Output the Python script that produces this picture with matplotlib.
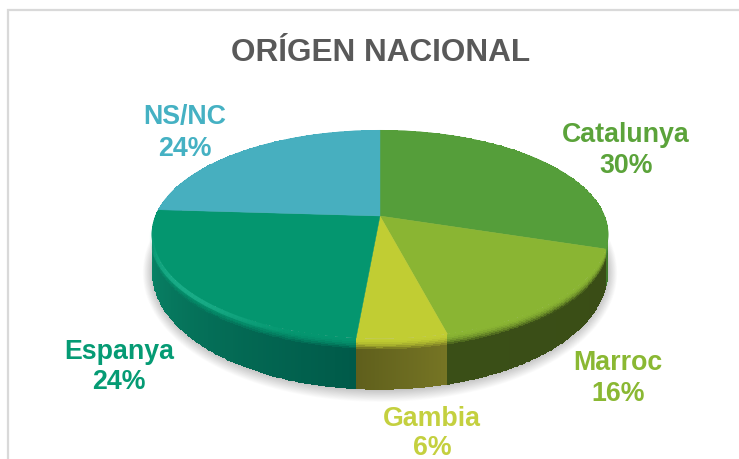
import numpy as np
import matplotlib
matplotlib.use("Agg")
import matplotlib.pyplot as plt
from matplotlib.colors import to_rgb

plt.rcParams['font.family'] = ['Liberation Sans', 'DejaVu Sans']

# labels as printed, slice sizes as they look in the picture
categories = ['Catalunya', 'Marroc', 'Gambia', 'Espanya', 'NS/NC']
percent_labels = ['30%', '16%', '6%', '24%', '24%']
slice_sizes = [30.0, 16.0, 5.4, 24.6, 24.0]
top_colors = ['#559E3A', '#8AB533', '#C1CD33', '#04966F', '#47AFBF']
text_colors = ['#5BA33A', '#8AB833', '#C4D03F', '#059B74', '#45B1C3']
wall_left = ['#3F7A2A', '#3A4D16', '#767524', '#0B8C6C', '#2E7F8C']
wall_right = ['#3F7A2A', '#3A4F17', '#5F5F1C', '#005A49', '#2E7F8C']
label_x = [626, 618, 432, 119, 185]
label_y = [135, 363, 419, 352, 117]
percent_y = [166, 394, 448, 382, 149]

# projection of the tilted disc to pixels
cx, cy = 380, 217
rx, ry = 224.6, 101
persp = 0.177


def project(theta):
    u = np.sin(theta)
    v = -np.cos(theta)
    den = 1 - persp * v
    return cx + rx * u / den, cy + ry * v / den


def depth(theta):
    return 33 + 18 * (-np.cos(theta))


fig = plt.figure(figsize=(7.39, 4.60), dpi=100)
ax = fig.add_axes([0, 0, 1, 1])
ax.set_xlim(0, 739)
ax.set_ylim(460, 0)
ax.axis('off')

# chart frame, the bottom and right are cut off
ax.plot([8, 8, 739], [460, 11, 11], color='#D9D9D9', lw=1.6, solid_joinstyle='miter')

# soft shadow under the pie
t = np.linspace(0, 2 * np.pi, 300)
for grow in np.linspace(11, 0, 14):
    sx, sy = project(t)
    sy = sy + depth(t) + 1
    mx = sx.mean()
    my = sy.mean()
    sx2 = mx + (sx - mx) * (1 + grow / 280)
    sy2 = my + (sy - my) * (1 + grow / 130)
    ax.fill(sx2, sy2, color='black', alpha=0.017, lw=0, zorder=1)

edges = np.cumsum([0] + slice_sizes) / sum(slice_sizes) * 2 * np.pi

# side wall and rounded rim, one mesh per slice
rim = 10
for i in range(5):
    th = np.linspace(edges[i], edges[i + 1], 120)
    px, py = project(th)
    d = depth(th)
    fr = np.linspace(0, 1, 30)
    X = np.outer(px, np.ones(30))
    Y = np.outer(py, np.ones(30)) + np.outer(d, fr)
    c1 = np.array(to_rgb(wall_left[i]))
    c2 = np.array(to_rgb(wall_right[i]))
    top = np.array(to_rgb(top_colors[i]))
    C = np.zeros((119, 29, 3))
    for a in range(119):
        pos = a / 118
        # the angle runs right to left on the front, Espanya darkens to the right
        if i == 3:
            pos = 1 - pos
        wall = c1 + (c2 - c1) * pos
        for b in range(29):
            yy = fr[b] * d[a]
            if yy < rim:
                s = yy / rim
                C[a, b] = top * (1 - s ** 2) + wall * s ** 2
            else:
                C[a, b] = wall
    ax.pcolormesh(X, Y, C, shading='flat', zorder=2, rasterized=True)

# top face
for i in range(5):
    th = np.linspace(edges[i], edges[i + 1], 150)
    px, py = project(th)
    ax.fill(np.r_[cx, px], np.r_[cy, py], color=top_colors[i], lw=0.3, zorder=3)

# bright bevel on the front left edge of Espanya
th = np.linspace(np.radians(192), np.radians(268), 60)
px, py = project(th)
for j in range(59):
    glow = np.sin(np.pi * j / 58) ** 2
    ax.plot(px[j:j + 2], py[j:j + 2] + 2, color='#2FC4A0', lw=3, alpha=0.5 * glow,
            solid_capstyle='butt', zorder=4)

ax.text(381, 53, 'ORÍGEN NACIONAL', color='#595959', fontsize=22.7, fontweight='bold',
        ha='center', va='center', zorder=5)

for i in range(5):
    ax.text(label_x[i], label_y[i], categories[i], color=text_colors[i], fontsize=19.3,
            fontweight='bold', ha='center', va='center', zorder=5)
    ax.text(label_x[i], percent_y[i], percent_labels[i], color=text_colors[i], fontsize=19.3,
            fontweight='bold', ha='center', va='center', zorder=5)

fig.savefig('out.png', dpi=100)
